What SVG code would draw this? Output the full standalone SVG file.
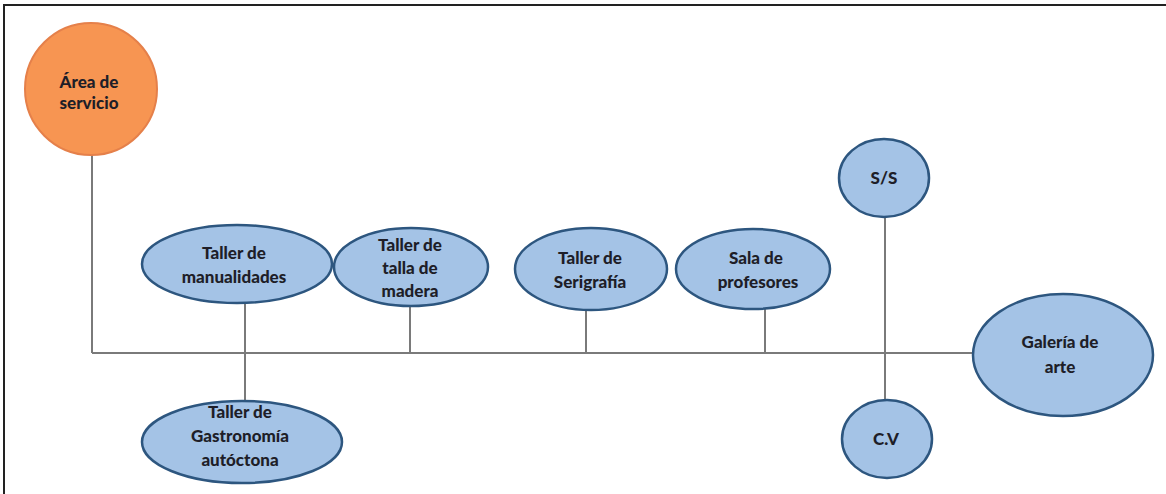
<svg xmlns="http://www.w3.org/2000/svg" width="1166" height="494" viewBox="0 0 1166 494">
<style>
.frame{stroke:#222;stroke-width:2;fill:none}
.conn line{stroke:#7a7a7a;stroke-width:2}
.blue{fill:#a4c3e6;stroke:#2d567f;stroke-width:2.5}
.orange{fill:#f79552;stroke:#e5804a;stroke-width:2}
text{font-family:Lato,"Liberation Sans",sans-serif;font-weight:900;font-size:17px;fill:#1e1e28;text-anchor:middle}
</style>
<rect width="1166" height="494" fill="#fff"/>
<path class="frame" d="M4 494 V5 H1166"/>
<g id="connectors" class="conn">
<line x1="92" y1="353" x2="973" y2="353"/>
<line x1="92" y1="155" x2="92" y2="353"/>
<line x1="245" y1="303" x2="245" y2="402"/>
<line x1="410" y1="306" x2="410" y2="353"/>
<line x1="586" y1="310" x2="586" y2="353"/>
<line x1="765" y1="309" x2="765" y2="353"/>
<line x1="885" y1="217" x2="885" y2="400"/>
</g>
<g id="area-servicio">
<circle class="orange" cx="91" cy="89" r="66"/>
<text x="89" y="88">Área de</text>
<text x="89" y="109">servicio</text>
</g>
<g id="taller-manualidades">
<ellipse class="blue" cx="237" cy="264" rx="95" ry="39"/>
<text x="234" y="259">Taller de</text>
<text x="234" y="283">manualidades</text>
</g>
<g id="taller-madera">
<ellipse class="blue" cx="411" cy="267" rx="77" ry="39"/>
<text x="410" y="251">Taller de</text>
<text x="410" y="274">talla de</text>
<text x="410" y="297">madera</text>
</g>
<g id="taller-serigrafia">
<ellipse class="blue" cx="591" cy="269" rx="76" ry="41"/>
<text x="590" y="264">Taller de</text>
<text x="590" y="288">Serigrafía</text>
</g>
<g id="sala-profesores">
<ellipse class="blue" cx="753" cy="269" rx="77" ry="40"/>
<text x="756" y="264">Sala de</text>
<text x="758" y="288">profesores</text>
</g>
<g id="ss">
<ellipse class="blue" cx="884" cy="178" rx="45" ry="39"/>
<text x="884" y="184">S/S</text>
</g>
<g id="cv">
<ellipse class="blue" cx="887" cy="439" rx="45" ry="39"/>
<text x="886" y="445">C.V</text>
</g>
<g id="galeria-arte">
<ellipse class="blue" cx="1063" cy="355" rx="90" ry="61"/>
<text x="1060" y="348">Galería de</text>
<text x="1060" y="373">arte</text>
</g>
<g id="taller-gastronomia">
<ellipse class="blue" cx="242" cy="442" rx="100" ry="41"/>
<text x="240" y="418">Taller de</text>
<text x="240" y="442">Gastronomía</text>
<text x="240" y="466">autóctona</text>
</g>
</svg>
